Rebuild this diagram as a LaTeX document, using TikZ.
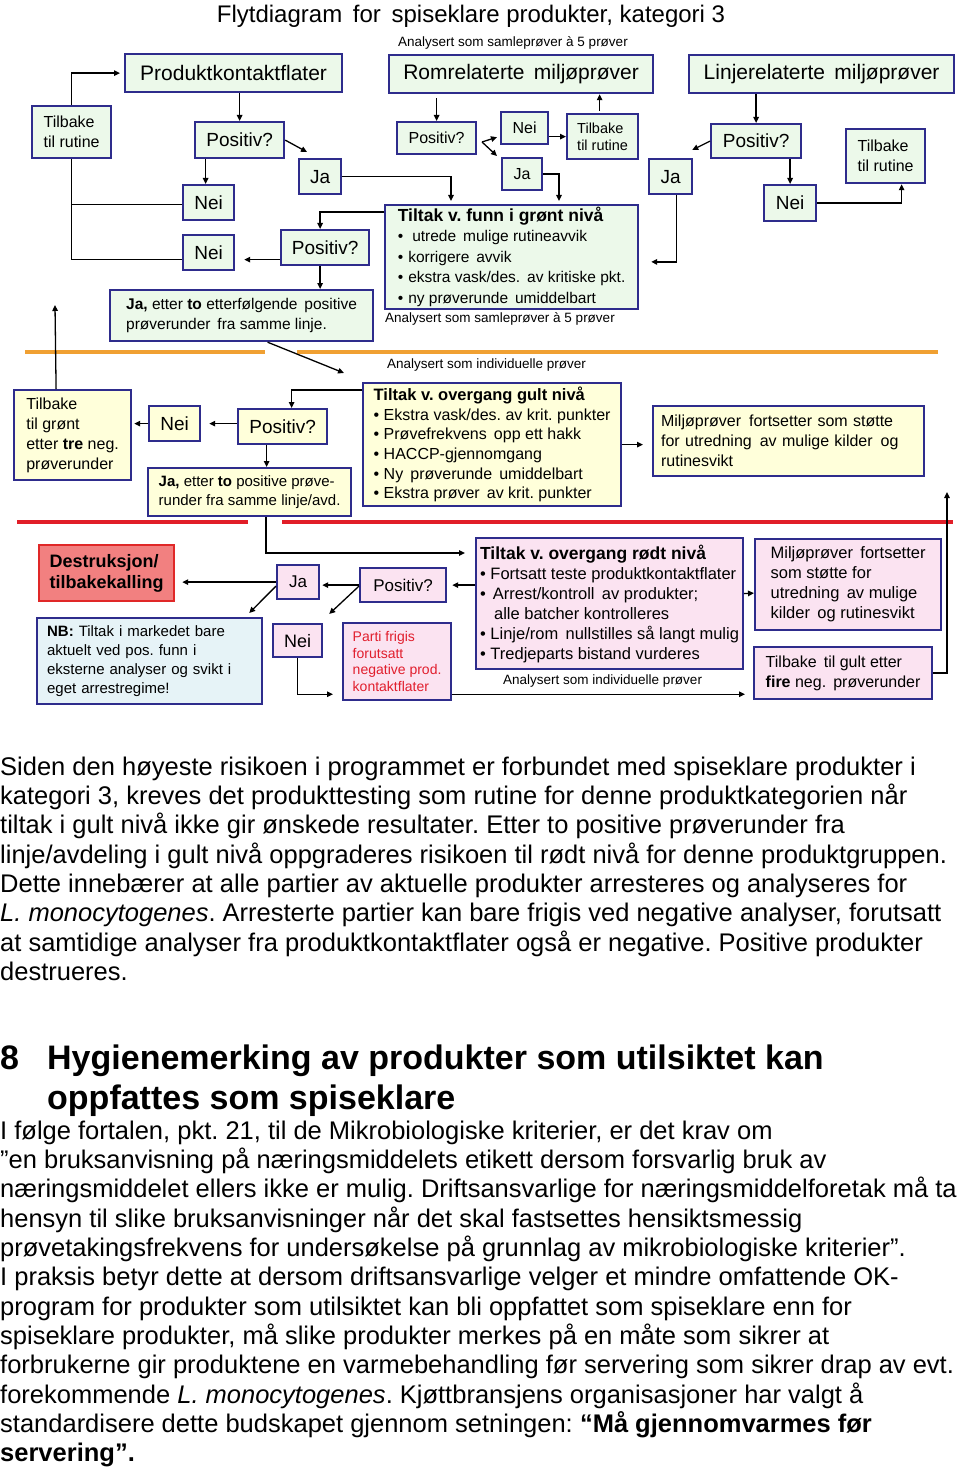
\documentclass[tikz,border=0pt]{standalone}
\usepackage{fontspec}
\setmainfont{Liberation Sans}
\usetikzlibrary{arrows.meta}
\frenchspacing
\definecolor{nvy}{RGB}{46,44,140}
\definecolor{gfill}{RGB}{236,249,234}
\definecolor{yfill}{RGB}{255,255,218}
\definecolor{pfill}{RGB}{251,227,241}
\definecolor{bfill}{RGB}{230,243,247}
\definecolor{salm}{RGB}{242,128,128}
\definecolor{rbord}{RGB}{224,40,40}
\definecolor{orline}{RGB}{240,160,50}
\definecolor{rdline}{RGB}{225,30,40}
\definecolor{rtext}{RGB}{225,30,45}
\newcommand\myfs[2]{\fontsize{#1}{#2}\selectfont}
\newcommand\mybox[7]{%
  \pgfmathsetmacro\myw{#4-#2}\pgfmathsetmacro\myh{#5-#3}%
  \node[#6, anchor=north west, minimum width=\myw pt, minimum height=\myh pt] (#1) at (#2,#3) {#7};}
\tikzset{
  bx/.style={draw=nvy, line width=2.2pt, inner xsep=4pt, inner ysep=2pt, align=left, font=\myfs{19}{22}},
  gb/.style={bx, fill=gfill},
  yb/.style={bx, fill=yfill},
  pb/.style={bx, fill=pfill},
  arr/.style={-{Triangle[length=6pt,width=5.5pt]}, line width=1.3pt},
  ln/.style={line width=1.3pt},
  lbl/.style={anchor=base west, inner sep=0pt, font=\myfs{13.5}{16}},
  body/.style={anchor=base west, inner sep=0pt, font=\myfs{25.5}{29}},
  head/.style={anchor=base west, inner sep=0pt, font=\myfs{34}{40}\bfseries}
}
\begin{document}
\begin{tikzpicture}[x=1pt,y=-1pt]
\useasboundingbox (0,0) rectangle (960,1471);
\fill[white] (0,0) rectangle (960,1471);

% title and labels
\node[anchor=base, inner sep=0pt, font=\myfs{24}{28}] (title) at (471,23) {Flytdiagram\, for\, spiseklare produkter, kategori 3};
\node[lbl] (l1) at (398,47) {Analysert som samleprøver à 5 prøver};
\node[lbl] (l2) at (385,322) {Analysert som samleprøver à 5 prøver};
\node[lbl] (l3) at (387,368) {Analysert som individuelle prøver};
\node[lbl] (l4) at (503,684) {Analysert som individuelle prøver};

% separator lines
\draw[orline, line width=3.5pt] (25,352) -- (265,352);
\draw[orline, line width=3.5pt] (297,352) -- (938,352);
\draw[rdline, line width=3.5pt] (17,522) -- (248,522);
\draw[rdline, line width=3.5pt] (282,522) -- (953,522);

% ---------- green section ----------
\mybox{prod}{124}{53}{341}{91}{gb,font=\myfs{21}{24}}{Produktkontaktflater}
\mybox{rom}{388}{54}{652}{92}{gb,font=\myfs{21}{24}}{Romrelaterte\, miljøprøver}
\mybox{linj}{688}{54}{953}{92}{gb,font=\myfs{21}{24}}{Linjerelaterte\, miljøprøver}

\mybox{tr1}{31}{105}{110}{157}{gb,font=\myfs{16}{20}}{Tilbake\\til rutine}
\mybox{pos1}{194}{121}{283}{157}{gb}{Positiv?}
\mybox{ja1}{298}{158}{340}{193}{gb}{Ja}
\mybox{nei1}{182}{184}{233}{219}{gb}{Nei}
\mybox{nei2}{182}{234}{233}{269}{gb}{Nei}
\mybox{pos2}{280}{229}{368}{264}{gb}{Positiv?}
\mybox{tg}{384}{204}{637}{304}{gb,font=\myfs{15.5}{20.5}}{{\bfseries\fontsize{17.5}{20.5}\selectfont Tiltak v. funn i grønt nivå}\\
•\hspace{9pt}utrede\, mulige rutineavvik\\
•\hspace{5pt}korrigere\, avvik\\
•\hspace{5pt}ekstra vask/des.\, av kritiske pkt.\\
•\hspace{5pt}ny prøverunde\, umiddelbart}
\mybox{jae1}{109}{289}{372}{340}{gb,font=\myfs{15.5}{20}}{\textbf{Ja,} etter \textbf{to} etterfølgende\, positive\\prøverunder\, fra samme linje.}

\mybox{pos3}{396}{121}{475}{153}{gb,font=\myfs{16}{19}}{Positiv?}
\mybox{nei3}{500}{111}{547}{143}{gb,font=\myfs{16}{19}}{Nei}
\mybox{ja3}{501}{157}{541}{189}{gb,font=\myfs{16}{19}}{Ja}
\mybox{tr2}{566}{113}{637}{158}{gb,font=\myfs{14.5}{17.5}}{Tilbake\\til rutine}

\mybox{pos4}{710}{123}{800}{157}{gb}{Positiv?}
\mybox{ja4}{648}{158}{691}{193}{gb}{Ja}
\mybox{nei4}{763}{184}{815}{220}{gb}{Nei}
\mybox{tr3}{845}{128}{924}{182}{gb,font=\myfs{16}{20}}{Tilbake\\til rutine}

% ---------- yellow section ----------
\mybox{tgr}{13}{389}{130}{479}{yb,font=\myfs{16}{20}}{Tilbake\\til grønt\\etter \textbf{tre} neg.\\prøverunder}
\mybox{neiy}{148}{405}{199}{440}{yb}{Nei}
\mybox{posy}{237}{408}{326}{443}{yb}{Positiv?}
\mybox{tgul}{362}{382}{620}{505}{yb,font=\myfs{16}{19.6}}{{\bfseries\fontsize{16.5}{19.6}\selectfont Tiltak v. overgang gult nivå}\\
• Ekstra vask/des. av krit. punkter\\
• Prøvefrekvens\, opp ett hakk\\
• HACCP-gjennomgang\\
• Ny\, prøverunde\, umiddelbart\\
• Ekstra prøver\, av krit. punkter}
\mybox{jae2}{147}{467}{350}{515}{yb,font=\myfs{15}{19.5}}{\textbf{Ja,} etter \textbf{to} positive prøve-\\runder fra samme linje/avd.}
\mybox{mily}{652}{405}{923}{475}{yb,font=\myfs{16}{20},text width=255pt,inner xsep=8pt}{Miljøprøver\, fortsetter som støtte\\for utredning\, av mulige kilder\, og\\rutinesvikt}

% ---------- red section ----------
\mybox{des}{38}{544}{173}{600}{bx,draw=rbord,fill=salm,font=\myfs{18}{21}\bfseries}{Destruksjon/\\tilbakekalling}
\mybox{jap}{276}{564}{318}{598}{pb,font=\myfs{17}{20}}{Ja}
\mybox{posp}{359}{567}{445}{601}{pb,font=\myfs{17}{20}}{Positiv?}
\mybox{trod}{475}{537}{740}{668}{pb,font=\myfs{16.5}{20}}{{\bfseries\fontsize{17.5}{20}\selectfont Tiltak v. overgang rødt nivå}\\
• Fortsatt teste produktkontaktflater\\
•\hspace{7pt}Arrest/kontroll\, av produkter;\\
\hspace*{14pt}alle batcher kontrolleres\\
• Linje/rom\, nullstilles så langt mulig\\
• Tredjeparts bistand vurderes}
\mybox{milp}{754}{538}{940}{629}{pb,font=\myfs{16.5}{20}}{Miljøprøver\, fortsetter\\som støtte for\\utredning\, av mulige\\kilder\, og rutinesvikt}
\mybox{tgu}{753}{646}{931}{698}{pb,font=\myfs{16}{20}}{Tilbake\, til gult etter\\\textbf{fire} neg.\, prøverunder}
\mybox{nb}{36}{617}{261}{703}{bx,fill=bfill,font=\myfs{15}{19},text width=205pt,inner xsep=10pt}{\textbf{NB:} Tiltak i markedet bare\\aktuelt ved pos. funn i\\eksterne analyser og svikt i\\eget arrestregime!}
\mybox{neip}{272}{623}{321}{656}{pb,font=\myfs{18}{21}}{Nei}
\mybox{parti}{342}{622}{450}{699}{pb,text=rtext,font=\myfs{14}{16.5}}{Parti frigis\\forutsatt\\negative prod.\\kontaktflater}

% ---------- connectors: green ----------
\draw[arr] (tr1.north) |- ([xshift=-4pt]prod.west);
\draw[arr] (pos1.north |- prod.south) -- (pos1.north);
\draw[arr] (pos1.east) -- ([xshift=9pt,yshift=6pt]ja1.north west);
\draw[arr] ([xshift=-3pt]nei1.north |- pos1.south) -- ([xshift=-3pt]nei1.north);
\draw[ln] ([yshift=-2pt]nei1.west) -- ([yshift=-2pt]tr1.south |- nei1.west);
\draw[ln] (tr1.south) |- ([yshift=-7pt]nei2.west);
\draw[arr, shorten >=9pt] ([yshift=-12pt]pos2.west) -- ([yshift=-7pt]nei2.east);
\draw[arr, shorten >=3pt] (ja1.east) -| ([xshift=67pt]tg.north west);
\draw[arr] ([yshift=-8pt]tg.north west) -| ([xshift=-5pt]pos2.north);
\draw[arr] ([xshift=-5pt]pos2.south) -- ([xshift=-5pt]pos2.south |- jae1.north);

\draw[arr, shorten <=4pt] (pos3.north |- rom.south) -- (pos3.north);
\coordinate (fork) at (482,142);
\draw[arr] (fork) -- ([xshift=-3pt,yshift=8pt]nei3.south west);
\draw[arr] (fork) -- ([xshift=-4pt,yshift=1pt]ja3.north west);
\draw[arr] (nei3.east |- tr2.west) -- (tr2.west);
\draw[arr, shorten <=2pt] ([xshift=-3pt]tr2.north) -- ([xshift=-3pt]tr2.north |- rom.south);
\draw[arr, shorten >=3pt] (ja3.east) -| ([xshift=175pt]tg.north west);

\draw[arr] (pos4.north |- linj.south) -- (pos4.north);
\draw[arr] (pos4.west) -- ([xshift=-1pt,yshift=8pt]ja4.north east);
\draw[arr, shorten >=12pt] ([xshift=6pt]ja4.south) |- ([yshift=-5pt]tg.east);
\draw[arr] (nei4.north |- pos4.south) -- (nei4.north);
\draw[arr] (nei4.east) -| ([xshift=16pt]tr3.south);

% ---------- connectors: yellow ----------
\draw[arr] ([xshift=26pt]jae1.south) -- ([xshift=-18pt,yshift=9pt]tgul.north west);
\coordinate (up1) at (55,305);
\draw[arr] ([xshift=-16.5pt]tgr.north) -- (up1);
\draw[arr, shorten >=8pt] (posy.west |- neiy.east) -- (neiy.east);
\draw[arr, shorten >=2pt] (neiy.west) -- (tgr.east |- neiy.west);
\draw[arr] ([yshift=-8pt]tgul.north west) -| ([xshift=9pt]posy.north);
\draw[arr] ([xshift=-16pt]posy.south) -- ([xshift=-16pt]posy.south |- jae2.north);
\draw[arr, shorten >=9pt] (tgul.east) -- (tgul.east -| mily.west);
\coordinate (up2) at (947,492);
\draw[arr] (tgu.east) -| (up2);

% ---------- connectors: red ----------
\draw[arr, shorten >=10pt] ([xshift=16.5pt]jae2.south) |- ([yshift=-16pt]trod.north west);
\draw[arr, shorten >=5pt] (trod.west |- posp.east) -- (posp.east);
\draw[arr, shorten >=2pt] (posp.west) -- (jap.east |- posp.west);
\draw[arr, shorten >=7pt] (jap.west) -- (des.east |- jap.west);
\draw[arr] ([yshift=-4pt]jap.west) -- ([xshift=-14pt,yshift=4pt]nb.north east);
\draw[arr] ([yshift=-1pt]posp.west) -- ([xshift=6pt,yshift=9pt]neip.north east);
\draw[arr, shorten >=9pt] (neip.south) |- ([yshift=7pt]parti.south west);
\draw[arr, shorten >=8pt] ([yshift=7pt]parti.south east) -- ([yshift=6pt]tgu.south west);
\draw[arr] ([yshift=10pt]trod.east) -- ([yshift=-8.5pt]milp.west);

% ---------- body text ----------
\node[body] (b1) at (0,775) {Siden den høyeste risikoen i programmet er forbundet med spiseklare produkter i};
\node[body] (b2) at (0,804) {kategori 3, kreves det produkttesting som rutine for denne produktkategorien når};
\node[body] (b3) at (0,833.5) {tiltak i gult nivå ikke gir ønskede resultater. Etter to positive prøverunder fra};
\node[body] (b4) at (0,863) {linje/avdeling i gult nivå oppgraderes risikoen til rødt nivå for denne produktgruppen.};
\node[body] (b5) at (0,892) {Dette innebærer at alle partier av aktuelle produkter arresteres og analyseres for};
\node[body] (b6) at (0,921.5) {\textit{L. monocytogenes}. Arresterte partier kan bare frigis ved negative analyser, forutsatt};
\node[body] (b7) at (0,951) {at samtidige analyser fra produktkontaktflater også er negative. Positive produkter};
\node[body] (b8) at (0,980) {destrueres.};

\node[head] (h0) at (0,1069) {8};
\node[head] (h1) at (47,1069) {Hygienemerking av produkter som utilsiktet kan};
\node[head] (h2) at (47,1109) {oppfattes som spiseklare};

\node[body] (c1) at (0,1139) {I følge fortalen, pkt. 21, til de Mikrobiologiske kriterier, er det krav om};
\node[body] (c2) at (0,1168) {”en bruksanvisning på næringsmiddelets etikett dersom forsvarlig bruk av};
\node[body] (c3) at (0,1197.5) {næringsmiddelet ellers ikke er mulig. Driftsansvarlige for næringsmiddelforetak må ta};
\node[body] (c4) at (0,1227) {hensyn til slike bruksanvisninger når det skal fastsettes hensiktsmessig};
\node[body] (c5) at (0,1256) {prøvetakingsfrekvens for undersøkelse på grunnlag av mikrobiologiske kriterier”.};
\node[body] (c6) at (0,1285.5) {I praksis betyr dette at dersom driftsansvarlige velger et mindre omfattende OK-};
\node[body] (c7) at (0,1315) {program for produkter som utilsiktet kan bli oppfattet som spiseklare enn for};
\node[body] (c8) at (0,1344) {spiseklare produkter, må slike produkter merkes på en måte som sikrer at};
\node[body] (c9) at (0,1373.5) {forbrukerne gir produktene en varmebehandling før servering som sikrer drap av evt.};
\node[body] (c10) at (0,1403) {forekommende \textit{L. monocytogenes}. Kjøttbransjens organisasjoner har valgt å};
\node[body] (c11) at (0,1432) {standardisere dette budskapet gjennom setningen: \textbf{“Må gjennomvarmes før}};
\node[body] (c12) at (0,1461.5) {\textbf{servering”.}};
\end{tikzpicture}
\end{document}
